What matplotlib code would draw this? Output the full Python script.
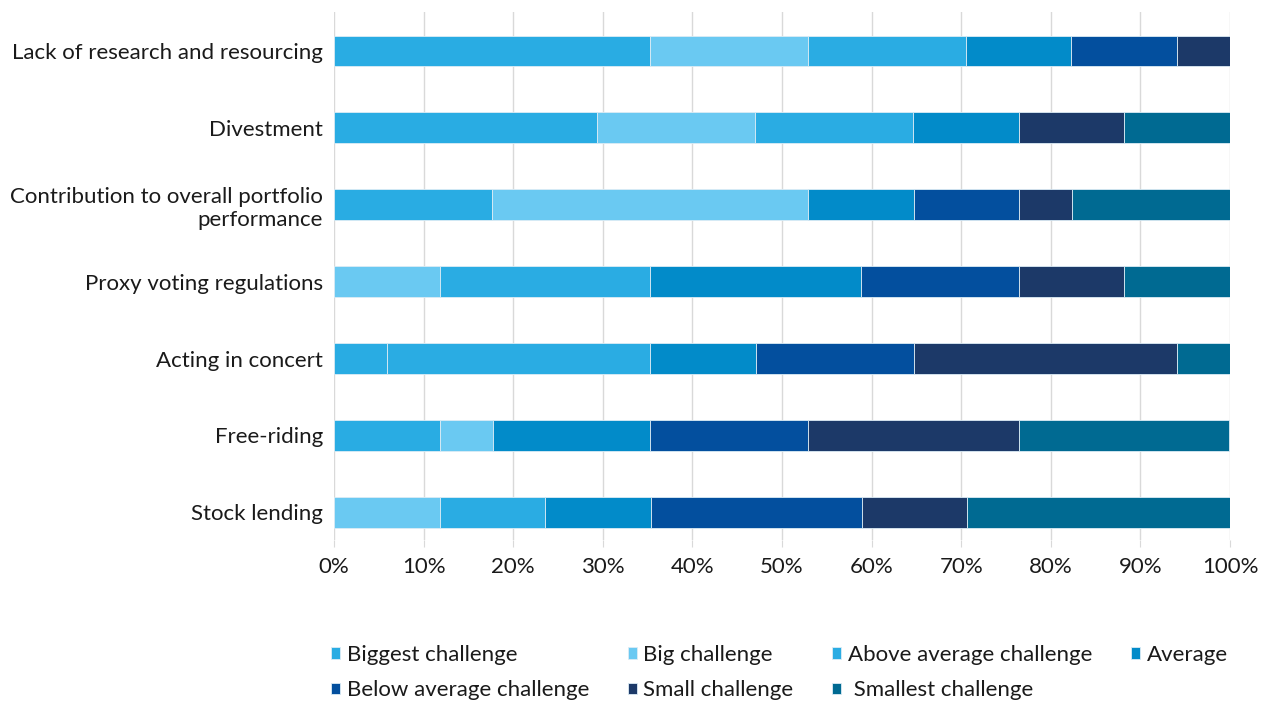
import matplotlib
matplotlib.use("Agg")
import matplotlib.pyplot as plt
import numpy as np

plt.rcParams['font.family'] = ['Lato', 'DejaVu Sans']

categories = [
    "Lack of research and resourcing",
    "Divestment",
    "Contribution to overall portfolio\nperformance",
    "Proxy voting regulations",
    "Acting in concert",
    "Free-riding",
    "Stock lending",
]

series_names = [
    "Biggest challenge",
    "Big challenge",
    "Above average challenge",
    "Average",
    "Below average challenge",
    "Small challenge",
    "Smallest challenge",
]

# Share of respondents (%) per category, one list per answer level
biggest = [35.3, 29.4, 17.6, 0.0, 5.9, 11.8, 0.0]
big = [17.6, 17.6, 35.3, 11.8, 0.0, 5.9, 11.8]
above_average = [17.6, 17.6, 0.0, 23.5, 29.4, 0.0, 11.8]
average = [11.8, 11.8, 11.8, 23.5, 11.8, 17.6, 11.8]
below_average = [11.8, 0.0, 11.8, 17.6, 17.6, 17.6, 23.5]
small = [5.9, 11.8, 5.9, 11.8, 29.4, 23.5, 11.8]
smallest = [0.0, 11.8, 17.6, 11.8, 5.9, 23.5, 29.4]

colors = ["#29ACE3", "#6AC9F2", "#2AACE3", "#028BC9", "#034F9E", "#1C3968", "#006A92"]

values = [biggest, big, above_average, average, below_average, small, smallest]

fig = plt.figure(figsize=(12.79, 7.02), dpi=100)
ax = fig.add_axes([334 / 1279, 1 - 540 / 702, (1230 - 334) / 1279, (540 - 12) / 702])

y = np.arange(len(categories))
left = np.zeros(len(categories))
handles = []
for name, vals, col in zip(series_names, values, colors):
    vals = np.array(vals)
    bars = ax.barh(y, vals, left=left, height=0.4, color=col, label=name,
                   edgecolor="#dcecf5", linewidth=0.6, zorder=3)
    handles.append(bars)
    left += vals

ax.set_xlim(0, 100)
ax.set_ylim(len(categories) - 1 + 0.36, -0.506)
ax.set_yticks(y)
ax.set_yticklabels(categories, fontsize=16, color="#1a1a1a")
ax.set_xticks(np.arange(0, 101, 10))
ax.set_xticklabels([f"{v}%" for v in range(0, 101, 10)], fontsize=16, color="#1a1a1a")
ax.xaxis.grid(True, color="#d9d9d9", linewidth=1, zorder=0)
ax.tick_params(axis="y", length=0, pad=8)
ax.tick_params(axis="x", length=5, color="#d9d9d9", pad=7)
for s in ax.spines.values():
    s.set_visible(False)

order = [0, 4, 1, 5, 2, 6, 3]
labels = list(series_names)
labels[6] = " " + labels[6]
leg = fig.legend([handles[i] for i in order], [labels[i] for i in order],
                 loc="upper left", bbox_to_anchor=(331 / 1279, 1 - 645 / 702),
                 ncol=4, frameon=False, fontsize=16, handlelength=0.4, handleheight=0.4,
                 handletextpad=0.3, columnspacing=1.75, labelspacing=0.68, borderpad=0,
                 borderaxespad=0, labelcolor="#1a1a1a")

fig.savefig("out.png", dpi=100)
